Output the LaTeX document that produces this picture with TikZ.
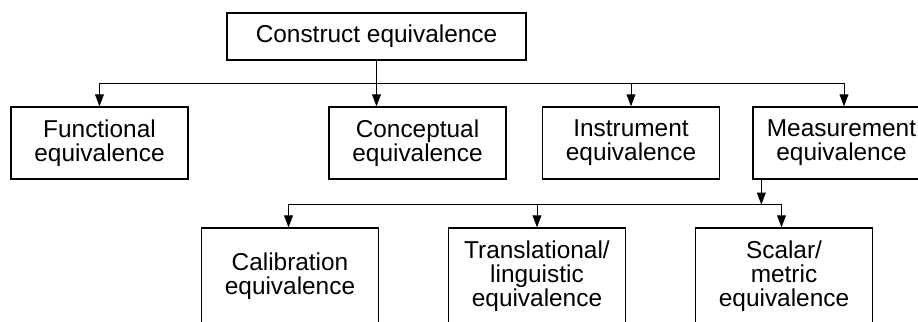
\documentclass[tikz,border=0pt]{standalone}
\usepackage{fontspec}
\setmainfont{Liberation Sans}
\usetikzlibrary{arrows.meta, positioning}

\begin{document}
\begin{tikzpicture}[
        on grid, >={Triangle[length=6pt,width=4.4pt]}, line width=0.5pt,
        eqbox/.style={draw, line width=0.65pt, align=center, inner sep=0pt,
          minimum width=88.5pt, minimum height=36pt,
          font=\fontsize{12.2}{12.1}\selectfont},
        ]
        \clip (0,0) rectangle (459pt,-161pt);

        \node[eqbox, minimum width=149.5pt, minimum height=23.5pt] (construct) at (188.25pt,-18.25pt) {Construct equivalence};
        \node[eqbox] (functional)  [below left=53.25pt and 138.5pt of construct]  {Functional\\equivalence};
        \node[eqbox] (conceptual)  [below right=53.25pt and 20.5pt of construct]  {Conceptual\\equivalence};
        \node[eqbox] (instrument)  [right=106.75pt of conceptual]                 {Instrument\\equivalence};
        \node[eqbox] (measurement) [right=105.25pt of instrument]                 {Measurement\\equivalence};
        \node[eqbox, minimum height=48pt] (calibration)   [below left=66.5pt and 63.75pt of conceptual] {Calibration\\equivalence};
        \node[eqbox, minimum height=48pt] (translational) [right=123.5pt of calibration]   {Translational/\\linguistic\\equivalence};
        \node[eqbox, minimum height=48pt] (scalar)        [right=123.5pt of translational] {Scalar/\\metric\\equivalence};

        % first level
        \coordinate (split1) at ([yshift=-11.5pt]construct.south);
        \draw (construct) -- (split1);
        \draw[->] (split1) -| (functional);
        \draw[->] (split1) -| ([xshift=1.25pt]measurement.north);
        \draw[->] (split1) -- (split1 |- conceptual.north);
        \draw[->] (split1 -| instrument) -- (instrument);

        % second level
        \coordinate (drop) at ([xshift=4.5pt]measurement.south west);
        \coordinate (split2) at ([yshift=-12.5pt]drop);
        \draw[->] (drop) -- (split2);
        \draw[->] (split2) -| ([xshift=-0.75pt]calibration.north);
        \draw[->] (split2) -| ([xshift=-1.25pt]scalar.north);
        \draw[->] (split2 -| translational) -- (translational);
\end{tikzpicture}
\end{document}
